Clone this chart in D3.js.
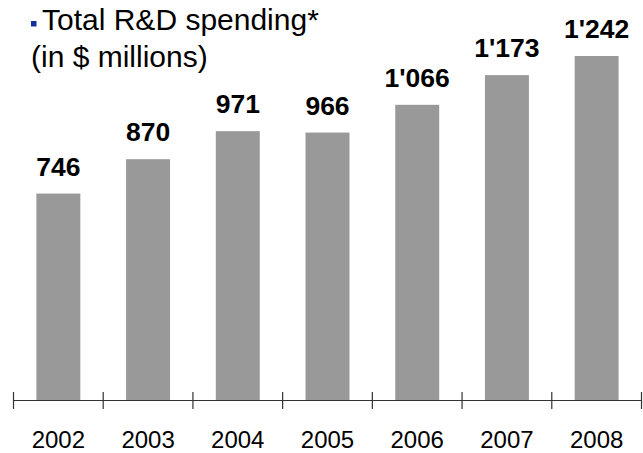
<!DOCTYPE html>
<html>
<head>
<meta charset="utf-8">
<script src="https://cdn.jsdelivr.net/npm/d3@7"></script>
<style>
  body { margin: 0; background: #fff; }
  svg { display: block; font-family: "Liberation Sans", Arial, sans-serif; }
</style>
</head>
<body>
<svg width="643" height="453"></svg>
<script>
var years = ['2002', '2003', '2004', '2005', '2006', '2007', '2008'];
var spending = [746, 870, 971, 966, 1066, 1173, 1242];
var titleLines = ['Total R&D spending*', '(in $ millions)'];

var svg = d3.select('svg');

var axisY = 400.5;
var x = d3.scaleBand().domain(years).range([13.5, 641.5]).padding(0);
var y = d3.scaleLinear().domain([0, 1242]).range([axisY, 56]);
var barW = x.bandwidth() * 0.49;

var fmt = d3.formatLocale({ decimal: '.', thousands: "'", grouping: [3], currency: ['$', ''] }).format(',d');

// title
svg.append('rect')
    .attr('x', 31).attr('y', 21)
    .attr('width', 5.5).attr('height', 5.5)
    .attr('fill', '#1030a0');
svg.selectAll('text.title')
    .data(titleLines)
    .enter().append('text')
    .attr('class', 'title')
    .attr('x', function(d, i) { return i === 0 ? 42 : 31; })
    .attr('y', function(d, i) { return 30 + i * 36.5; })
    .attr('font-size', 30)
    .attr('fill', '#000')
    .text(function(d) { return d; });

// bars
var data = years.map(function(yr, i) { return { year: yr, value: spending[i] }; });

svg.selectAll('rect.bar')
    .data(data)
    .enter().append('rect')
    .attr('class', 'bar')
    .attr('x', function(d) { return x(d.year) + (x.bandwidth() - barW) / 2; })
    .attr('y', function(d) { return y(d.value); })
    .attr('width', barW)
    .attr('height', function(d) { return axisY - y(d.value); })
    .attr('fill', '#999999');

svg.selectAll('text.val')
    .data(data)
    .enter().append('text')
    .attr('class', 'val')
    .attr('x', function(d) { return x(d.year) + x.bandwidth() / 2; })
    .attr('y', function(d) { return y(d.value) - 18; })
    .attr('text-anchor', 'middle')
    .attr('font-size', 26.5)
    .attr('font-weight', 'bold')
    .text(function(d) { return fmt(d.value); });

// axis
var axis = svg.append('g').attr('stroke', '#333').attr('stroke-width', 1.2);
axis.append('line')
    .attr('x1', x.range()[0]).attr('x2', x.range()[1])
    .attr('y1', axisY).attr('y2', axisY);
var tickXs = years.map(function(yr) { return x(yr); }).concat([x.range()[1]]);
axis.selectAll('line.tick')
    .data(tickXs)
    .enter().append('line')
    .attr('class', 'tick')
    .attr('x1', function(d) { return d; }).attr('x2', function(d) { return d; })
    .attr('y1', 392).attr('y2', 409);

svg.selectAll('text.year')
    .data(years)
    .enter().append('text')
    .attr('class', 'year')
    .attr('x', function(d) { return x(d) + x.bandwidth() / 2; })
    .attr('y', 448)
    .attr('text-anchor', 'middle')
    .attr('font-size', 24)
    .text(function(d) { return d; });
</script>
</body>
</html>
